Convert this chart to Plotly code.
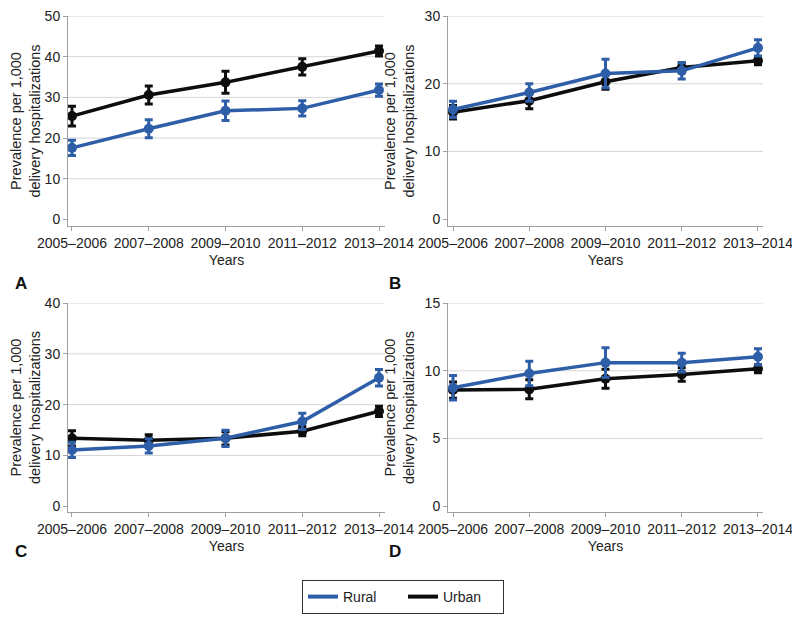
import plotly.graph_objects as go
from plotly.subplots import make_subplots

# periods on the x axis
years = ["2005\u20132006", "2007\u20132008", "2009\u20132010", "2011\u20132012", "2013\u20132014"]

# panel A
a_rural = [17.6, 22.3, 26.7, 27.3, 31.8]
a_rural_err = [1.9, 2.2, 2.4, 1.9, 1.5]
a_urban = [25.4, 30.6, 33.7, 37.5, 41.4]
a_urban_err = [2.4, 2.2, 2.7, 2.0, 1.2]

# panel B
b_rural = [16.2, 18.7, 21.5, 21.9, 25.3]
b_rural_err = [1.2, 1.3, 2.1, 1.2, 1.2]
b_urban = [15.8, 17.5, 20.3, 22.4, 23.4]
b_urban_err = [1.0, 1.2, 1.1, 0.7, 0.6]

# panel C
c_rural = [11.1, 11.9, 13.4, 16.7, 25.3]
c_rural_err = [1.5, 1.4, 1.6, 1.6, 1.6]
c_urban = [13.4, 13.0, 13.4, 14.8, 18.7]
c_urban_err = [1.5, 1.1, 1.3, 0.9, 1.0]

# panel D
d_rural = [8.75, 9.8, 10.6, 10.6, 11.03]
d_rural_err = [0.9, 0.9, 1.1, 0.7, 0.6]
d_urban = [8.58, 8.63, 9.41, 9.73, 10.15]
d_urban_err = [0.6, 0.7, 0.7, 0.5, 0.3]

# y axis ticks per panel
a_ticks = [0, 10, 20, 30, 40, 50]
b_ticks = [0, 10, 20, 30]
c_ticks = [0, 10, 20, 30, 40]
d_ticks = [0, 5, 10, 15]

BLUE = "#2f5ea8"
BLACK = "#0d0d0d"
FONT = "Arial, Liberation Sans, sans-serif"
W, H = 800, 622
OFF = 8  # page body margin, the figure sits 8px in from the window corner


def fx(p):
    return (p - OFF) / W


def fy(p):
    return 1 - (p - OFF) / H


fig = make_subplots(rows=2, cols=2)

panels = [
    (1, 1, a_rural, a_rural_err, a_urban, a_urban_err, a_ticks, [-1.6, 50]),
    (1, 2, b_rural, b_rural_err, b_urban, b_urban_err, b_ticks, [-1.0, 30]),
    (2, 1, c_rural, c_rural_err, c_urban, c_urban_err, c_ticks, [-1.1, 40]),
    (2, 2, d_rural, d_rural_err, d_urban, d_urban_err, d_ticks, [-0.42, 15]),
]

xdom = {1: [fx(68), fx(385)], 2: [fx(448), fx(763)]}
ydom = {1: [fy(226), fy(16)], 2: [fy(512), fy(303)]}
xrng = {1: [-0.052, 4.078], 2: [-0.066, 4.066]}

for row, col, rur, rur_e, urb, urb_e, ticks, yr in panels:
    # urban first so rural sits on top
    for vals, errs, colr in [(urb, urb_e, BLACK), (rur, rur_e, BLUE)]:
        fig.add_trace(go.Scatter(
            x=years, y=vals, mode="lines+markers",
            line=dict(color=colr, width=3.5),
            marker=dict(color=colr, size=10, symbol="circle"),
            error_y=dict(type="data", array=errs, visible=True,
                         color=colr, thickness=3, width=4),
            showlegend=False, hoverinfo="x+y"), row=row, col=col)
    fig.update_xaxes(domain=xdom[col], range=xrng[col], type="category",
                     automargin=False, ticklabeloverflow="allow",
                     showline=True, linecolor="#a0a0a0", linewidth=1,
                     ticks="outside", ticklen=4, tickcolor="#a0a0a0",
                     tickangle=0,
                     showgrid=False, zeroline=False,
                     tickfont=dict(size=14, color="#222", family=FONT),
                     title=dict(text="Years", standoff=5,
                                font=dict(size=14, color="#222", family=FONT)),
                     row=row, col=col)
    fig.update_yaxes(domain=ydom[row], range=yr, tickvals=ticks,
                     automargin=False, ticklabeloverflow="allow",
                     showline=True, linecolor="#a0a0a0", linewidth=1,
                     ticks="outside", ticklen=4, tickcolor="#a0a0a0",
                     showgrid=False, zeroline=False,
                     tickfont=dict(size=14, color="#222", family=FONT),
                     title=dict(text="Prevalence per 1,000<br>delivery hospitalizations",
                                standoff=6,
                                font=dict(size=14.5, color="#222", family=FONT)),
                     row=row, col=col)
    # horizontal gridlines (none at zero)
    n = (row - 1) * 2 + col
    sfx = "" if n == 1 else str(n)
    for t in ticks[1:]:
        fig.add_shape(type="line", xref="x%s domain" % sfx, yref="y%s" % sfx,
                      x0=0, x1=1, y0=t, y1=t, layer="below",
                      line=dict(color="#d6d6d6", width=1))

# legend entries
for name, colr in [("Rural", BLUE), ("Urban", BLACK)]:
    fig.add_trace(go.Scatter(x=[None], y=[None], mode="lines", name=name,
                             line=dict(color=colr, width=4), showlegend=True))

# panel letters
for letter, px, py in [("A", 13, 283), ("B", 395, 283), ("C", 13, 563), ("D", 395, 563)]:
    fig.add_annotation(text="<b>%s</b>" % letter, x=fx(px), y=fy(py),
                       xref="paper", yref="paper", showarrow=False,
                       font=dict(size=17, color="#111", family=FONT))

fig.update_layout(
    width=W, height=H,
    margin=dict(l=0, r=0, t=0, b=0, autoexpand=False),
    paper_bgcolor="white", plot_bgcolor="white",
    legend=dict(orientation="h", x=fx(302), xanchor="left",
                y=fy(580), yanchor="top",
                bordercolor="#333", borderwidth=1,
                font=dict(size=14, color="#222", family=FONT),
                entrywidth=55, itemwidth=30),
)

fig.write_html("out.html")
